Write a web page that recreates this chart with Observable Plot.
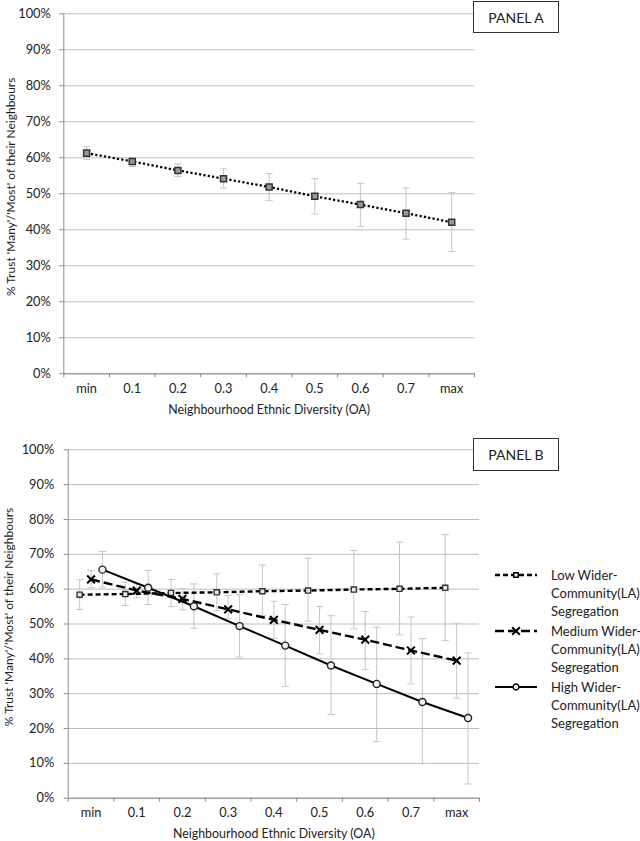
<!DOCTYPE html>
<html>
<head>
<meta charset="utf-8">
<script src="https://cdn.jsdelivr.net/npm/d3@7"></script>
<script src="https://cdn.jsdelivr.net/npm/@observablehq/plot@0.6"></script>
<style>
  body { margin: 0; background: white; }
  #wrap { position: relative; width: 640px; height: 841px; font-family: Lato, "DejaVu Sans", sans-serif; color: #222; background: white; }
  #wrap svg.plot { position: absolute; left: 0; }
  .panelbox { position: absolute; left: 473px; width: 86px; box-sizing: border-box; border: 1.3px solid #333; display: flex; align-items: center; justify-content: center; font-size: 14px; background: white; }
  .leg { position: absolute; left: 495px; }
  .leg svg { position: absolute; left: 0; top: 0; }
  .leg .lt { position: absolute; left: 56px; top: 0; font-size: 13px; line-height: 18px; white-space: nowrap; }
</style>
</head>
<body>
<div id="wrap"></div>
<script>
// ---- data ----
const categories = ["min", "0.1", "0.2", "0.3", "0.4", "0.5", "0.6", "0.7", "max"];
const yTicks = [0, 10, 20, 30, 40, 50, 60, 70, 80, 90, 100];

// Panel A: overall
const panelAMean = [61.3, 59.0, 56.5, 54.2, 51.9, 49.3, 47.0, 44.6, 42.1];
const panelALow  = [59.5, 57.6, 54.8, 51.6, 48.1, 44.4, 40.9, 37.4, 34.0];
const panelAHigh = [63.1, 60.0, 58.3, 56.9, 55.6, 54.2, 52.9, 51.6, 50.3];

// Panel B: by wider-community segregation
const lowSegMean  = [58.4, 58.6, 58.9, 59.1, 59.4, 59.6, 59.9, 60.1, 60.4];
const lowSegLow   = [54.2, 55.3, 55.0, 53.9, 52.4, 50.8, 48.6, 46.9, 45.3];
const lowSegHigh  = [62.7, 62.0, 62.8, 64.4, 66.9, 68.9, 71.1, 73.5, 75.7];

const medSegMean  = [62.8, 59.6, 57.2, 54.2, 51.2, 48.3, 45.5, 42.4, 39.5];
const medSegLow   = [60.4, 57.5, 54.1, 51.5, 45.9, 41.4, 36.9, 32.8, 28.7];
const medSegHigh  = [65.3, 61.5, 60.1, 58.2, 56.5, 55.0, 53.6, 52.0, 50.2];

const highSegMean = [65.6, 60.4, 55.1, 49.4, 43.8, 38.1, 32.8, 27.6, 23.0];
const highSegLow  = [60.6, 55.6, 48.8, 40.5, 32.1, 24.0, 16.3, 9.9, 4.1];
const highSegHigh = [70.8, 65.4, 61.5, 58.4, 55.6, 52.4, 49.1, 45.8, 41.7];

const seriesNames = [
  ["Low Wider-", "Community(LA)", "Segregation"],
  ["Medium Wider-", "Community(LA)", "Segregation"],
  ["High Wider-", "Community(LA)", "Segregation"]
];
const yTitle = "% Trust 'Many'/'Most' of their Neighbours";
const xTitle = "Neighbourhood Ethnic Diversity (OA)";

// ---- helpers ----
const idx = categories.map((_, i) => i);
const boundaries = d3.range(-0.5, categories.length, 1);
function rows(mean, lo, hi, offset) {
  return mean.map((v, i) => ({x: i + offset, v, lo: lo[i], hi: hi[i]}));
}
const capSymbol = {
  draw(ctx, size) { const r = Math.sqrt(size / Math.PI); ctx.moveTo(-r, 0); ctx.lineTo(r, 0); }
};
const errColor = "#c6c6c6";
function errMarks(data) {
  return [
    Plot.ruleX(data, {x: "x", y1: "lo", y2: "hi", stroke: errColor, strokeWidth: 1}),
    Plot.dot(data, {x: "x", y: "lo", symbol: capSymbol, r: 3.6, fill: "none", stroke: errColor, strokeWidth: 1}),
    Plot.dot(data, {x: "x", y: "hi", symbol: capSymbol, r: 3.6, fill: "none", stroke: errColor, strokeWidth: 1})
  ];
}
function frameMarks(yPad, titleDx, titleDy, xTitleDy) {
  return [
    Plot.gridY(yTicks, {stroke: "#bdbdbd", strokeOpacity: 1, strokeWidth: 1}),
    Plot.ruleX([-0.5], {stroke: "#8a8a8a", strokeWidth: 1}),
    Plot.ruleY([0], {stroke: "#8a8a8a", strokeWidth: 1}),
    Plot.axisY(yTicks, {tickSize: 4, tickPadding: yPad, tickFormat: d => d + "%", stroke: "#8a8a8a", label: null, fontSize: 12.8}),
    Plot.axisX(boundaries, {tickSize: 4, tickFormat: () => "", stroke: "#8a8a8a", label: null}),
    Plot.axisX(idx, {tickSize: 0, tickPadding: 10, tickFormat: i => categories[i], label: null, fontSize: 12.8}),
    Plot.text([yTitle], {frameAnchor: "left", dx: titleDx, dy: titleDy, rotate: -90, textAnchor: "middle", lineAnchor: "middle", fontSize: 12, fill: "#222"}),
    Plot.text([xTitle], {frameAnchor: "bottom", dy: xTitleDy, textAnchor: "middle", lineAnchor: "middle", fontSize: 12.4, fill: "#222"})
  ];
}
const baseStyle = {fontFamily: "Lato, 'DejaVu Sans', sans-serif", fontSize: "12.8px", color: "#222", background: "transparent", overflow: "visible"};

const wrap = document.getElementById("wrap");

// ---- Panel A ----
const dataA = rows(panelAMean, panelALow, panelAHigh, 0);
const plotA = Plot.plot({
  width: 640, height: 420,
  marginLeft: 63.3, marginRight: 166, marginTop: 13.3, marginBottom: 46.7,
  x: {domain: [-0.5, 8.5]},
  y: {domain: [0, 100]},
  style: baseStyle,
  marks: [
    ...frameMarks(9, -53, -7, 36),
    ...errMarks(dataA),
    Plot.line(dataA, {x: "x", y: "v", stroke: "black", strokeWidth: 2.3, strokeDasharray: "2.2,2.2", strokeLinecap: "butt"}),
    Plot.dot(dataA, {x: "x", y: "v", symbol: "square", r: 3.4, fill: "#9a9a9a", stroke: "#333", strokeWidth: 1.5})
  ]
});
plotA.classList.add("plot");
plotA.style.top = "0px";
wrap.appendChild(plotA);

// ---- Panel B ----
const dLow = rows(lowSegMean, lowSegLow, lowSegHigh, -0.25);
const dMed = rows(medSegMean, medSegLow, medSegHigh, 0);
const dHigh = rows(highSegMean, highSegLow, highSegHigh, 0.25);
const plotB = Plot.plot({
  width: 640, height: 421,
  marginLeft: 67.7, marginRight: 161, marginTop: 29.3, marginBottom: 43.3,
  x: {domain: [-0.5, 8.5]},
  y: {domain: [0, 100]},
  style: baseStyle,
  marks: [
    ...frameMarks(10, -59, -7, 35.5),
    ...errMarks(dLow),
    ...errMarks(dMed),
    ...errMarks(dHigh),
    Plot.line(dLow, {x: "x", y: "v", stroke: "black", strokeWidth: 2.4, strokeDasharray: "5,3", strokeLinecap: "butt"}),
    Plot.dot(dLow, {x: "x", y: "v", symbol: "square", r: 2.9, fill: "#e8e8e8", stroke: "#333", strokeWidth: 1.4}),
    Plot.line(dMed, {x: "x", y: "v", stroke: "black", strokeWidth: 2.4, strokeDasharray: "9,4", strokeLinecap: "butt"}),
    Plot.dot(dMed, {x: "x", y: "v", symbol: "times", r: 3.6, stroke: "black", strokeWidth: 2}),
    Plot.line(dHigh, {x: "x", y: "v", stroke: "black", strokeWidth: 2}),
    Plot.dot(dHigh, {x: "x", y: "v", symbol: "circle", r: 3.5, fill: "#f2f2f2", stroke: "#222", strokeWidth: 1.4})
  ]
});
plotB.classList.add("plot");
plotB.style.top = "420px";
wrap.appendChild(plotB);

// ---- Panel labels ----
function panelBox(text, top, height) {
  const d = document.createElement("div");
  d.className = "panelbox";
  d.style.top = top + "px";
  d.style.height = height + "px";
  d.textContent = text;
  wrap.appendChild(d);
}
panelBox("PANEL A", 1, 32);
panelBox("PANEL B", 438, 33);

// ---- Legend ----
const legendStyles = [
  {dash: "5,3", width: 2.4, sym: "square"},
  {dash: "9,4", width: 2.4, sym: "times"},
  {dash: null, width: 2, sym: "circle"}
];
const legendTops = [566, 622, 678];
legendStyles.forEach((s, k) => {
  const g = document.createElement("div");
  g.className = "leg";
  g.style.top = legendTops[k] + "px";
  const ns = "http://www.w3.org/2000/svg";
  const svg = document.createElementNS(ns, "svg");
  svg.setAttribute("width", 44); svg.setAttribute("height", 18);
  const ln = document.createElementNS(ns, "line");
  ln.setAttribute("x1", 0); ln.setAttribute("x2", 42); ln.setAttribute("y1", 9); ln.setAttribute("y2", 9);
  ln.setAttribute("stroke", "black"); ln.setAttribute("stroke-width", s.width);
  if (s.dash) ln.setAttribute("stroke-dasharray", s.dash);
  svg.appendChild(ln);
  const p = document.createElementNS(ns, "path");
  const type = s.sym === "square" ? d3.symbolSquare : s.sym === "times" ? d3.symbolTimes : d3.symbolCircle;
  const size = s.sym === "square" ? 20 : s.sym === "times" ? 40 : 28;
  p.setAttribute("d", d3.symbol(type, size)());
  p.setAttribute("transform", "translate(21,9)");
  p.setAttribute("fill", s.sym === "times" ? "none" : "#eee");
  p.setAttribute("stroke", "black");
  p.setAttribute("stroke-width", s.sym === "times" ? 2 : 1.4);
  svg.appendChild(p);
  g.appendChild(svg);
  const t = document.createElement("div");
  t.className = "lt";
  t.innerHTML = seriesNames[k].join("<br>");
  g.appendChild(t);
  wrap.appendChild(g);
});
</script>
</body>
</html>
